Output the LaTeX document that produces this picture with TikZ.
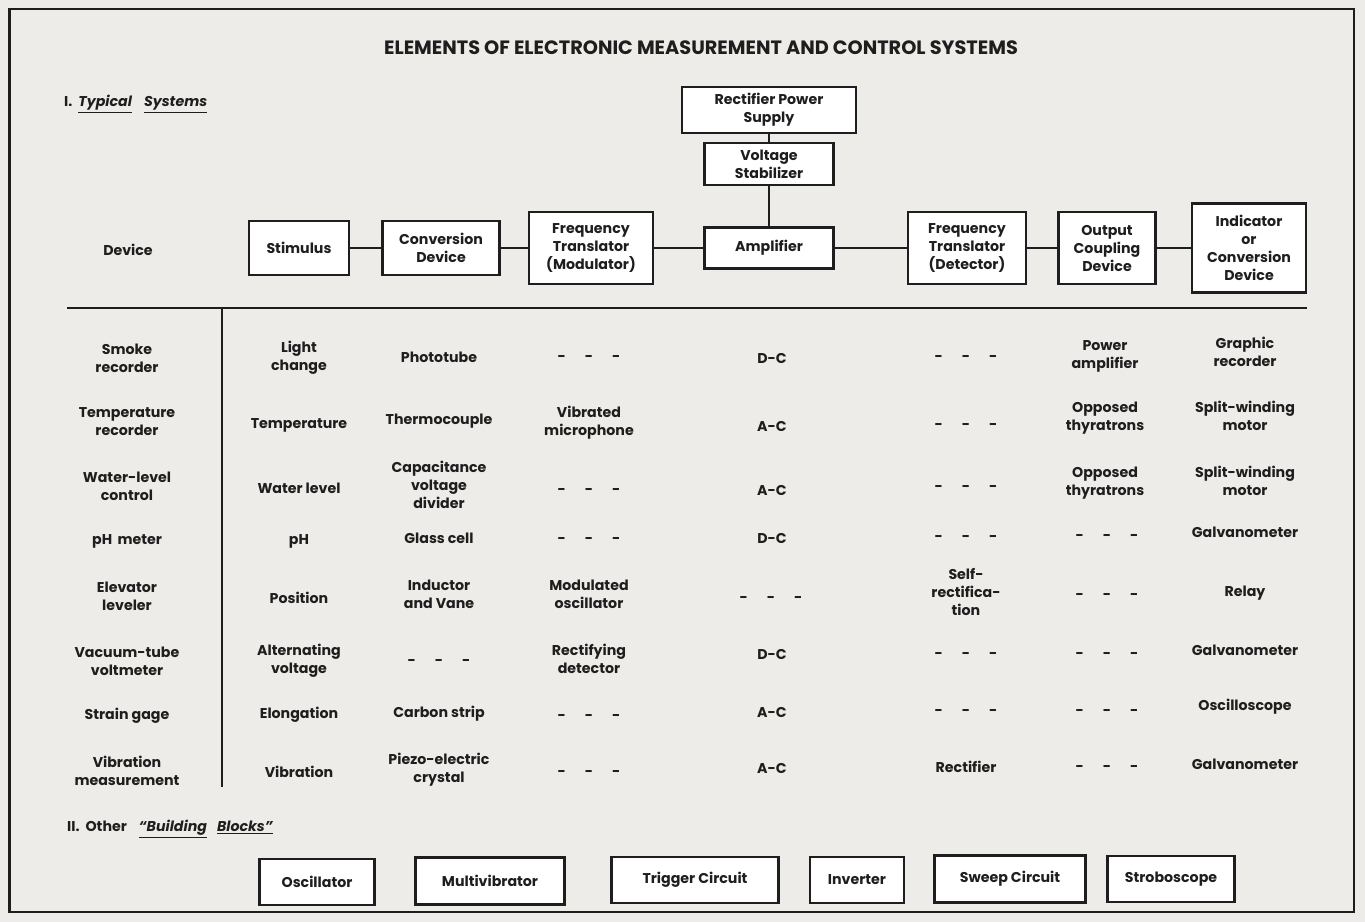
\documentclass[tikz,border=0pt]{standalone}
\usepackage{fontspec}
\setmainfont{Poppins}[UprightFont=* Bold, ItalicFont=* Bold Italic, BoldFont=* Bold]
\definecolor{paper}{HTML}{EDECE8}
\definecolor{ink}{HTML}{1E1E1E}
\tikzset{
  txt/.style={align=center, text=ink, inner sep=0pt, font=\fontsize{14.2}{18}\selectfont},
  blk/.style={txt, draw=ink, line width=2.2pt, fill=white},
  conn/.style={draw=ink, line width=2pt},
  rule/.style={draw=ink, line width=2.2pt},
  dashes/.style={txt}
}
\newcommand{\dsh}{-\hspace{19pt}-\hspace{19pt}-}
\begin{document}
\begin{tikzpicture}[x=1pt,y=-1pt]
\useasboundingbox (0,0) rectangle (1365,922);
\fill[paper] (0,0) rectangle (1365,922);
\draw[ink, line width=2.5pt] (9,9) rectangle (1354,912);
\draw[ink, line width=3pt] (9,9) -- (9,912);
% title
\node[txt, font=\fontsize{19.3}{22}\selectfont] (title) at (701,48) {ELEMENTS OF ELECTRONIC MEASUREMENT AND CONTROL SYSTEMS};
\node[txt, anchor=west] (sec1) at (64,104) {I.\hspace{6pt}\textit{\underline{Typical}}\hspace{12pt}\textit{\underline{Systems}}};
% chain
\node[txt] (dev) at (128,250) {Device};
\node[blk, minimum width=100pt, minimum height=54pt] (stim) at (299,248) {Stimulus};
\node[blk, minimum width=117pt, minimum height=54pt] (conv) at (441,248) {Conversion\\Device};
\node[blk, minimum width=124pt, minimum height=72pt] (ftm) at (591,248) {Frequency\\Translator\\(Modulator)};
\node[blk, minimum width=129pt, minimum height=41pt] (amp) at (769,248) {Amplifier};
\node[blk, minimum width=118pt, minimum height=72pt] (ftd) at (967,248) {Frequency\\Translator\\(Detector)};
\node[blk, minimum width=97pt, minimum height=72pt] (ocd) at (1107,248) {Output\\Coupling\\Device};
\node[blk, minimum width=114pt, minimum height=89pt] (ind) at (1249,248) {Indicator\\or\\Conversion\\Device};
\node[blk, minimum width=174pt, minimum height=46pt] (rps) at (769,110) {Rectifier Power\\Supply};
\node[blk, minimum width=129pt, minimum height=42pt] (vs) at (769,164) {Voltage\\Stabilizer};
\draw[conn] (stim) -- (conv);
\draw[conn] (conv) -- (ftm);
\draw[conn] (ftm) -- (amp);
\draw[conn] (amp) -- (ftd);
\draw[conn] (ftd) -- (ocd);
\draw[conn] (ocd) -- (ind);
\draw[conn] (rps) -- (vs);
\draw[conn] (vs) -- (amp);
% table rules
\coordinate (hl) at (67,308);
\coordinate (hr) at (1307,308);
\coordinate (vt) at (222,308);
\coordinate (vb) at (222,787);
\draw[rule] (hl) -- (hr);
\draw[rule] (vt) -- (vb);
% row 1
\node[txt] (r1c0) at (127,358) {Smoke\\recorder};
\node[txt] (r1c1) at (299,358) {Light\\change};
\node[txt] (r1c2) at (439,357) {Phototube};
\node[dashes] (r1c3) at (589,358) {\dsh};
\node[txt] (r1c4) at (772,358) {D-C};
\node[dashes] (r1c5) at (966,358) {\dsh};
\node[txt] (r1c6) at (1105,356) {Power\\amplifier};
\node[txt] (r1c7) at (1245,352) {Graphic\\recorder};
% row 2
\node[txt] (r2c0) at (127,422) {Temperature\\recorder};
\node[txt] (r2c1) at (299,425) {Temperature};
\node[txt] (r2c2) at (439,421) {Thermocouple};
\node[txt] (r2c3) at (589,423) {Vibrated\\microphone};
\node[txt] (r2c4) at (772,426) {A-C};
\node[dashes] (r2c5) at (966,426) {\dsh};
\node[txt] (r2c6) at (1105,418) {Opposed\\thyratrons};
\node[txt] (r2c7) at (1245,416) {Split-winding\\motor};
% row 3
\node[txt] (r3c0) at (127,486) {Water-level\\control};
\node[txt] (r3c1) at (299,488) {Water level};
\node[txt] (r3c2) at (439,485) {Capacitance\\voltage\\divider};
\node[dashes] (r3c3) at (589,491) {\dsh};
\node[txt] (r3c4) at (772,490) {A-C};
\node[dashes] (r3c5) at (966,488) {\dsh};
\node[txt] (r3c6) at (1105,483) {Opposed\\thyratrons};
\node[txt] (r3c7) at (1245,481) {Split-winding\\motor};
% row 4
\node[txt] (r4c0) at (127,541) {pH\, meter};
\node[txt] (r4c1) at (299,541) {pH};
\node[txt] (r4c2) at (439,538) {Glass cell};
\node[dashes] (r4c3) at (589,540) {\dsh};
\node[txt] (r4c4) at (772,538) {D-C};
\node[dashes] (r4c5) at (966,538) {\dsh};
\node[dashes] (r4c6) at (1107,537) {\dsh};
\node[txt] (r4c7) at (1245,532) {Galvanometer};
% row 5
\node[txt] (r5c0) at (127,596) {Elevator\\leveler};
\node[txt] (r5c1) at (299,598) {Position};
\node[txt] (r5c2) at (439,594) {Inductor\\and Vane};
\node[txt] (r5c3) at (589,594) {Modulated\\oscillator};
\node[dashes] (r5c4) at (771,599) {\dsh};
\node[txt] (r5c5) at (966,592) {Self-\\rectifica-\\tion};
\node[dashes] (r5c6) at (1107,596) {\dsh};
\node[txt] (r5c7) at (1245,593) {Relay};
% row 6
\node[txt] (r6c0) at (127,661) {Vacuum-tube\\voltmeter};
\node[txt] (r6c1) at (299,661) {Alternating\\voltage};
\node[dashes] (r6c2) at (439,662) {\dsh};
\node[txt] (r6c3) at (589,659) {Rectifying\\detector};
\node[txt] (r6c4) at (772,654) {D-C};
\node[dashes] (r6c5) at (966,655) {\dsh};
\node[dashes] (r6c6) at (1107,655) {\dsh};
\node[txt] (r6c7) at (1245,650) {Galvanometer};
% row 7
\node[txt] (r7c0) at (127,716) {Strain gage};
\node[txt] (r7c1) at (299,715) {Elongation};
\node[txt] (r7c2) at (439,714) {Carbon strip};
\node[dashes] (r7c3) at (589,717) {\dsh};
\node[txt] (r7c4) at (772,712) {A-C};
\node[dashes] (r7c5) at (966,712) {\dsh};
\node[dashes] (r7c6) at (1107,712) {\dsh};
\node[txt] (r7c7) at (1245,707) {Oscilloscope};
% row 8
\node[txt] (r8c0) at (127,771) {Vibration\\measurement};
\node[txt] (r8c1) at (299,772) {Vibration};
\node[txt] (r8c2) at (439,770) {Piezo-electric\\crystal};
\node[dashes] (r8c3) at (589,773) {\dsh};
\node[txt] (r8c4) at (772,768) {A-C};
\node[txt] (r8c5) at (966,767) {Rectifier};
\node[dashes] (r8c6) at (1107,768) {\dsh};
\node[txt] (r8c7) at (1245,764) {Galvanometer};
% section II
\node[txt, anchor=west] (sec2) at (67,829) {II.\hspace{6pt}Other\hspace{12pt}\textit{\underline{``Building}}\hspace{10pt}\textit{\underline{Blocks''}}};
\node[blk, minimum width=115pt, minimum height=46pt] (osc) at (317,882) {Oscillator};
\node[blk, minimum width=149pt, minimum height=47pt] (mv) at (490,881) {Multivibrator};
\node[blk, minimum width=167pt, minimum height=46pt] (tc) at (695,880) {Trigger Circuit};
\node[blk, minimum width=94pt, minimum height=46pt] (inv) at (857,880) {Inverter};
\node[blk, minimum width=151pt, minimum height=47pt] (sc) at (1010,879) {Sweep Circuit};
\node[blk, minimum width=127pt, minimum height=46pt] (strobo) at (1171,879) {Stroboscope};
\end{tikzpicture}
\end{document}
